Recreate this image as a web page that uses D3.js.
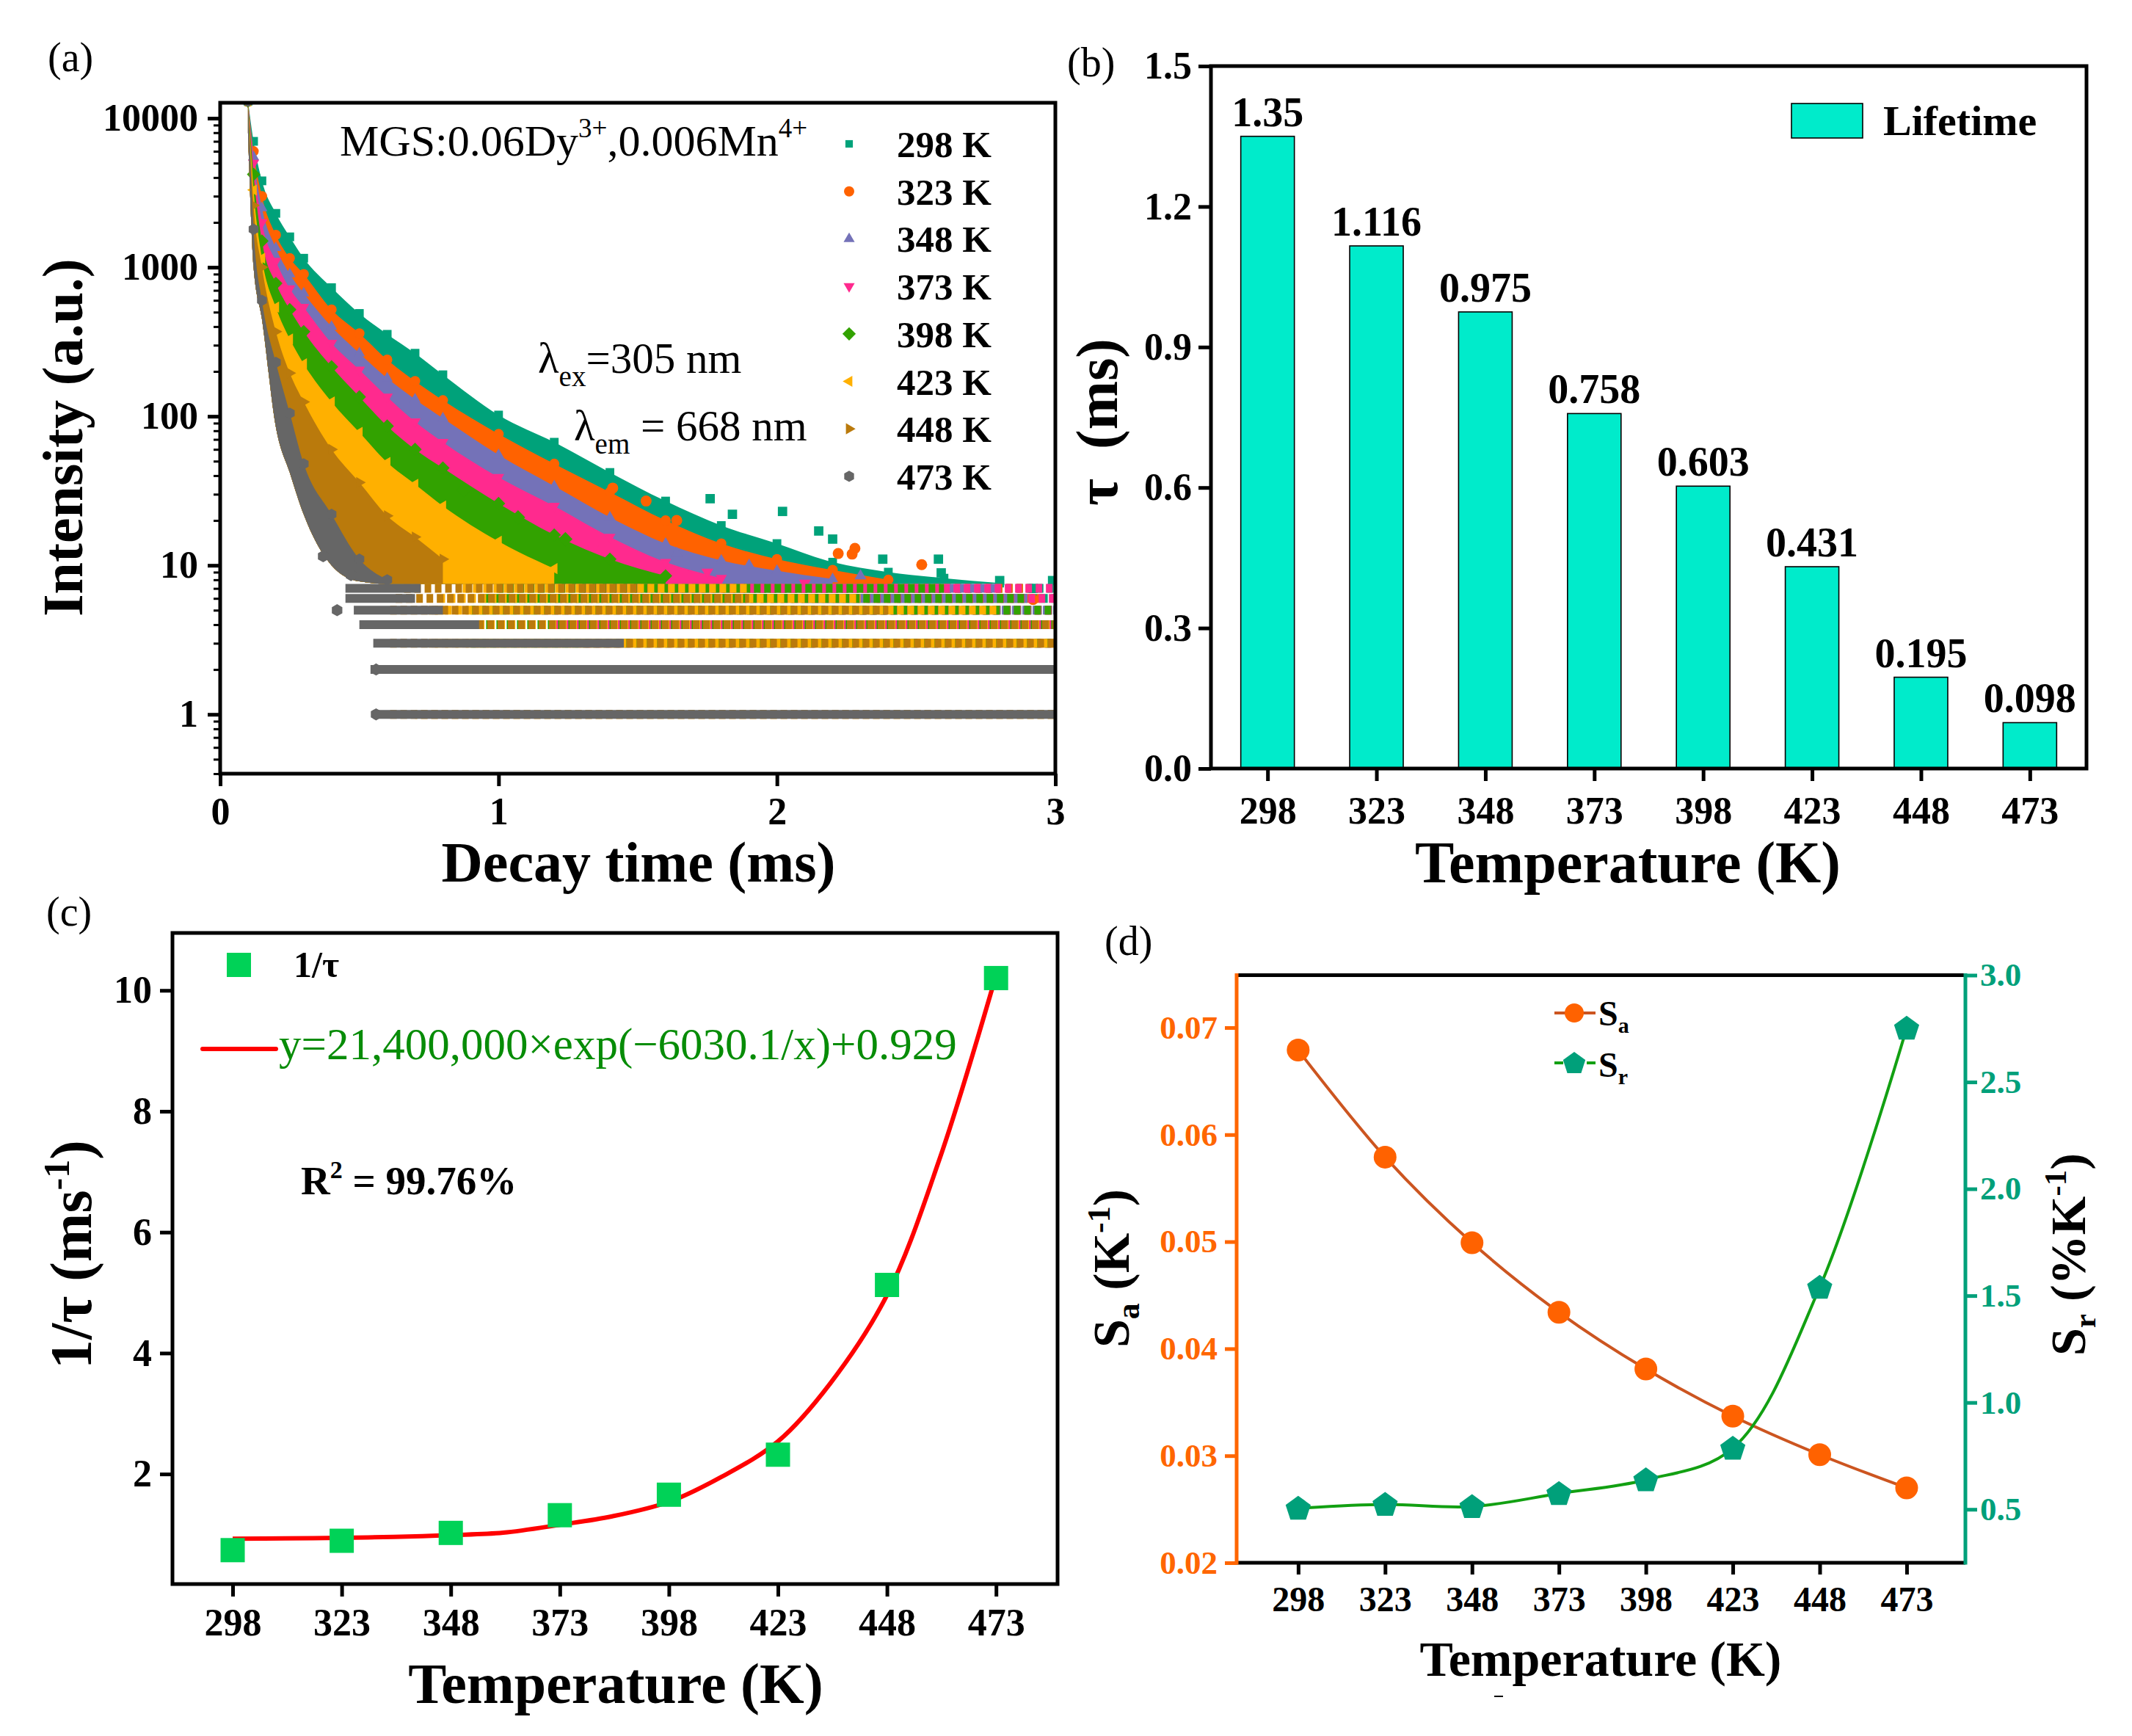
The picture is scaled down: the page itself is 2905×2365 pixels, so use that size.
<!DOCTYPE html>
<html>
<head>
<meta charset="utf-8">
<script src="https://cdn.jsdelivr.net/npm/d3@7"></script>
<style>
  body { margin: 0; background: #fff; }
  text { font-family: "Liberation Serif", "Times New Roman", serif; }
</style>
</head>
<body>
<svg id="fig" width="2905" height="2365"></svg>
<script>
// ---------- data ----------
const temps = [298, 323, 348, 373, 398, 423, 448, 473];

// (a) decay curves: upper edge of each point cloud read at these times (ms)
const decayT = [0.1, 0.12, 0.15, 0.2, 0.25, 0.3, 0.4, 0.5, 0.6, 0.7, 0.8, 1.0, 1.2, 1.4, 1.6, 1.8, 2.0, 2.2, 2.4, 2.6, 2.8, 3.0];
const hi298 = [13000, 7000, 3800, 2300, 1600, 1150, 730, 490, 355, 265, 190, 102, 67, 42, 27, 18.5, 14, 10.5, 9, 8.2, 7.6, 7.2];
const hi323 = [13000, 6000, 3000, 1650, 1150, 900, 520, 360, 240, 172, 128, 76, 48, 31, 20, 14, 11, 9.3, 8, 7.2, 6.6, 6.2];
const hi348 = [13000, 5500, 2500, 1350, 900, 670, 400, 265, 180, 130, 97, 55, 34, 21, 14, 10.8, 9.2, 8.1, 7.1, 6.5, 6, 5.7];
const hi373 = [13000, 5000, 2000, 1100, 720, 540, 310, 205, 135, 92, 67, 39, 25, 15.5, 10.5, 8.2, 7, 6.3, 5.8, 5.6, 5.4, 5.2];
const hi398 = [13000, 4200, 1500, 780, 520, 370, 215, 135, 86, 60, 45, 26, 16, 11, 8.5, 7, 6.2, 5.8, 5.6, 5.4, 5.2, 5];
const hi423 = [13000, 3300, 1150, 540, 330, 225, 125, 78, 49, 35, 25, 14.5, 9.5, 7.5, 6.5, 6, 5.7, 5.5, 5.3, 5.2, 5.1, 5];
const hi448 = [13000, 2600, 1000, 370, 195, 125, 60, 36, 21.5, 15.5, 11, 7.5, 6.3, 5.8, 5.5, 5.2, 5.1, 5, 4.9, 4.9, 4.8, 4.8];
const hi473 = [13000, 1800, 600, 230, 105, 48, 22, 11, 8, null, null, null, null, null, null, null, null, null, null, null, null, null];
// lower edge of the whole cloud (below it only the discrete count rows remain)
const cloudFloor = [8000, 1000, 450, 85, 42, 22, 10, 7.8, 7.5, 7.5, 7.5, 7.5, 7.5, 7.5, 7.5, 7.5, 7.5, 7.5, 7.5, 7.5, 7.5, 7.5];

// discrete count rows in the tails: [counts, from ms, to ms]
const rows298 = [[5, 2.3, 3], [6, 2.1, 3], [7, 1.9, 3]];
const rows323 = [[4, 2.0, 3], [5, 1.9, 3], [6, 1.8, 2.95], [7, 1.8, 2.9]];
const rows348 = [[3, 1.8, 3], [4, 1.6, 3], [5, 1.5, 3], [6, 1.5, 2.9], [7, 1.6, 2.8]];
const rows373 = [[3, 1.3, 3], [4, 1.2, 3], [5, 1.15, 3], [6, 1.2, 3], [7, 1.3, 3]];
const rows398 = [[2, 0.95, 3], [3, 0.9, 3], [4, 0.85, 3], [5, 0.9, 3], [6, 0.95, 2.9], [7, 1.0, 2.6]];
const rows423 = [[1, 0.7, 3], [2, 0.7, 3], [3, 0.75, 3], [4, 0.72, 3], [5, 0.75, 2.8], [6, 0.8, 2.3], [7, 0.85, 1.9]];
const rows448 = [[1, 0.6, 3], [2, 0.6, 3], [3, 0.6, 3], [4, 0.58, 3], [5, 0.6, 2.4], [6, 0.62, 1.9], [7, 0.65, 1.5]];
const rows473 = [[1, 0.55, 3], [2, 0.54, 3], [3, 0.55, 1.45], [4, 0.5, 0.93], [5, 0.48, 0.8], [6, 0.45, 0.7], [7, 0.45, 0.72]];

// isolated points above / below the clouds
const out298 = [[1.76, 28], [1.84, 22], [2.02, 23], [2.15, 17], [2.2, 15], [2.38, 11], [2.58, 11], [2.59, 8.9], [2.8, 7.9], [2.92, 7], [2.99, 7.9]];
const out323 = [[1.41, 33], [1.53, 27], [1.64, 20], [2.22, 12], [2.27, 11.9], [2.28, 13], [2.39, 7.3], [2.52, 10.1], [2.92, 5.9]];
const out348 = [[1.64, 12], [1.9, 10], [2.3, 8.5]];
const out373 = [[1.34, 13], [1.75, 9], [2.1, 7.6]];
const out398 = [[0.875, 32], [1.07, 21], [1.24, 15]];
const out473 = [[0.42, 5], [0.37, 11.5], [0.47, 8.6], [0.56, 2], [0.56, 1]];

const decayColors = ['#00A27A', '#FF6200', '#7472B8', '#FF2A8E', '#32A200', '#FFB000', '#BA7A0C', '#666666'];
const decayShapes = ['square', 'circle', 'up', 'down', 'diamond', 'left', 'right', 'hex'];
const decayHi = [hi298, hi323, hi348, hi373, hi398, hi423, hi448, hi473];
const decayRows = [rows298, rows323, rows348, rows373, rows398, rows423, rows448, rows473];
const decayOut = [out298, out323, out348, out373, out398, [], [], out473];
const decayYTicks = [1, 10, 100, 1000, 10000];
const decayXTicks = [0, 1, 2, 3];

// (b) lifetimes
const lifetime = [1.35, 1.116, 0.975, 0.758, 0.603, 0.431, 0.195, 0.098];
const lifetimeLabels = ['1.35', '1.116', '0.975', '0.758', '0.603', '0.431', '0.195', '0.098'];
const lifeYTicks = [0, 0.3, 0.6, 0.9, 1.2, 1.5];

// (c) 1/tau and fitted curve
const invTau = [0.741, 0.896, 1.026, 1.319, 1.658, 2.32, 5.128, 10.204];
const fitT = [298, 310, 323, 335, 348, 360, 373, 385, 398, 410, 423, 435, 448, 460, 473];
const fitY = [0.93, 0.935, 0.945, 0.96, 0.99, 1.03, 1.16, 1.30, 1.54, 1.95, 2.54, 3.5, 4.96, 7.2, 10.25];
const invYTicks = [2, 4, 6, 8, 10];

// (d) sensitivities
const sa = [0.0679, 0.0579, 0.0499, 0.0434, 0.0381, 0.0337, 0.0301, 0.0270];
const sr = [0.505, 0.523, 0.513, 0.574, 0.638, 0.786, 1.539, 2.752];
const saTicks = [0.02, 0.03, 0.04, 0.05, 0.06, 0.07];
const srTicks = [0.5, 1.0, 1.5, 2.0, 2.5, 3.0];

// ---------- helpers ----------
const svg = d3.select('#fig');
svg.append('rect').attr('width', 2905).attr('height', 2365).attr('fill', '#fff');

function poly(n, r, rot) {
  const p = d3.path();
  for (let k = 0; k < n; k++) {
    const a = rot + k * 2 * Math.PI / n;
    if (k) p.lineTo(r * Math.cos(a), r * Math.sin(a));
    else p.moveTo(r * Math.cos(a), r * Math.sin(a));
  }
  p.closePath();
  return p.toString();
}
const shapePath = {
  square: r => poly(4, r * 1.2, Math.PI / 4),
  circle: r => d3.symbol(d3.symbolCircle, Math.PI * r * r)(),
  up: r => poly(3, r * 1.25, -Math.PI / 2),
  down: r => poly(3, r * 1.25, Math.PI / 2),
  diamond: r => poly(4, r * 1.3, 0),
  left: r => poly(3, r * 1.25, Math.PI),
  right: r => poly(3, r * 1.25, 0),
  hex: r => poly(6, r * 1.1, Math.PI / 2),
  pentagon: r => poly(5, r, -Math.PI / 2)
};

function styleAxis(g, size, color) {
  g.attr('font-family', null).attr('font-size', size).attr('font-weight', 'bold');
  g.select('.domain').remove();
  g.selectAll('.tick line').attr('stroke', color).attr('stroke-width', 5);
  g.selectAll('.tick text').attr('fill', color);
}

function label(x, y, txt, size, opts = {}) {
  return svg.append('text')
    .attr('x', x).attr('y', y)
    .attr('font-size', size)
    .attr('font-weight', opts.bold ? 'bold' : 'normal')
    .attr('text-anchor', opts.anchor || 'start')
    .attr('fill', opts.fill || '#000')
    .text(txt);
}

function rotTitle(x, y, size) {
  return svg.append('text')
    .attr('transform', `translate(${x},${y}) rotate(-90)`)
    .attr('text-anchor', 'middle')
    .attr('font-size', size)
    .attr('font-weight', 'bold');
}

// ---------- (a) decay curves ----------
const xA = d3.scaleLinear().domain([0, 3]).range([300, 1438]);
const yA = d3.scaleLog().domain([0.4, 12700]).range([1054, 140]);

svg.append('clipPath').attr('id', 'clipA')
  .append('rect').attr('x', 300).attr('y', 140).attr('width', 1138).attr('height', 914);
const plotA = svg.append('g').attr('clip-path', 'url(#clipA)');

decayHi.forEach((hi, s) => {
  const col = decayColors[s];
  const g = plotA.append('g');
  const inCloud = i => hi[i] != null && hi[i] > cloudFloor[i];
  const area = d3.area()
    .defined(inCloud)
    .x(i => xA(decayT[i]))
    .y0(i => yA(cloudFloor[i]))
    .y1(i => yA(hi[i]))
    .curve(d3.curveMonotoneX);
  g.append('path').datum(d3.range(decayT.length)).attr('d', area).attr('fill', col);

  g.selectAll('path.edge')
    .data(d3.range(decayT.length).filter(inCloud))
    .join('path').attr('class', 'edge')
    .attr('transform', i => `translate(${xA(decayT[i])},${yA(hi[i])})`)
    .attr('d', shapePath[decayShapes[s]](7))
    .attr('fill', col);

  g.selectAll('path.out')
    .data(decayOut[s])
    .join('path').attr('class', 'out')
    .attr('transform', d => `translate(${xA(d[0])},${yA(d[1])})`)
    .attr('d', shapePath[decayShapes[s]](7.5))
    .attr('fill', col);

  g.selectAll('line.row')
    .data(decayRows[s])
    .join('line').attr('class', 'row')
    .attr('x1', d => xA(d[1])).attr('x2', d => xA(d[2]))
    .attr('y1', d => yA(d[0])).attr('y2', d => yA(d[0]))
    .attr('stroke', col).attr('stroke-width', 12)
    .attr('stroke-dasharray', s === 7 ? null : '9 5')
    .attr('stroke-dashoffset', s * 4);
});

// axes (a)
const minorA = [];
[0.1, 1, 10, 100, 1000].forEach(dec => {
  for (let m = 2; m <= 9; m++) {
    const v = dec * m;
    if (v >= 0.4 && v <= 12700) minorA.push(v);
  }
});
svg.append('g').attr('transform', 'translate(300,0)')
  .call(d3.axisLeft(yA).tickValues(minorA).tickFormat('').tickSize(9).tickSizeOuter(0))
  .call(g => { g.select('.domain').remove(); g.selectAll('.tick line').attr('stroke', '#000').attr('stroke-width', 3); });
svg.append('g').attr('transform', 'translate(300,0)')
  .call(d3.axisLeft(yA).tickValues(decayYTicks).tickFormat(d3.format('d')).tickSize(17).tickPadding(13).tickSizeOuter(0))
  .call(styleAxis, 52, '#000');
svg.append('g').attr('transform', 'translate(0,1054)')
  .call(d3.axisBottom(xA).tickValues(decayXTicks).tickFormat(d3.format('d')).tickSize(17).tickPadding(15).tickSizeOuter(0))
  .call(styleAxis, 52, '#000');
svg.append('rect').attr('x', 300).attr('y', 140).attr('width', 1138).attr('height', 914)
  .attr('fill', 'none').attr('stroke', '#000').attr('stroke-width', 5);

// legend (a)
temps.forEach((t, s) => {
  const y = 196 + s * 64.7;
  svg.append('path').attr('transform', `translate(1157,${y})`)
    .attr('d', shapePath[decayShapes[s]](s === 0 ? 6 : 7)).attr('fill', decayColors[s]);
  label(1222, y + 18, t + ' K', 51, { bold: true });
});

// annotations (a)
const mgs = label(463, 212, '', 60);
mgs.append('tspan').text('MGS:0.06Dy');
mgs.append('tspan').attr('dy', -25).attr('font-size', 37).text('3+');
mgs.append('tspan').attr('dy', 25).text(',0.006Mn');
mgs.append('tspan').attr('dy', -25).attr('font-size', 37).text('4+');

const lex = label(733, 508, '', 59);
lex.append('tspan').text('λ');
lex.append('tspan').attr('dy', 18).attr('font-size', 39).text('ex');
lex.append('tspan').attr('dy', -18).text('=305 nm');

const lem = label(782, 600, '', 59);
lem.append('tspan').text('λ');
lem.append('tspan').attr('dy', 18).attr('font-size', 39).text('em');
lem.append('tspan').attr('dy', -18).text(' = 668 nm');

label(65, 97, '(a)', 56);
label(870, 1201, 'Decay time (ms)', 78, { bold: true, anchor: 'middle' });
rotTitle(112, 596, 78).text('Intensity (a.u.)');

// ---------- (b) lifetime bars ----------
const xB = d3.scaleLinear().domain([285, 486]).range([1650, 2843]);
const yB = d3.scaleLinear().domain([0, 1.5]).range([1047, 90]);
const barW = 73;
const barFill = '#00EBCB';

svg.append('g').selectAll('rect')
  .data(lifetime)
  .join('rect')
  .attr('x', (d, i) => xB(temps[i]) - barW / 2)
  .attr('width', barW)
  .attr('y', d => yB(d))
  .attr('height', d => yB(0) - yB(d))
  .attr('fill', barFill).attr('stroke', '#000').attr('stroke-width', 1.6);

svg.append('g').selectAll('text')
  .data(lifetimeLabels)
  .join('text')
  .attr('x', (d, i) => xB(temps[i]))
  .attr('y', (d, i) => yB(lifetime[i]) - 14)
  .attr('text-anchor', 'middle')
  .attr('font-size', 56).attr('font-weight', 'bold')
  .text(d => d);

svg.append('g').attr('transform', 'translate(1650,0)')
  .call(d3.axisLeft(yB).tickValues(lifeYTicks).tickFormat(d3.format('.1f')).tickSize(17).tickPadding(9).tickSizeOuter(0))
  .call(styleAxis, 52, '#000');
svg.append('g').attr('transform', 'translate(0,1047)')
  .call(d3.axisBottom(xB).tickValues(temps).tickFormat(d3.format('d')).tickSize(17).tickPadding(21).tickSizeOuter(0))
  .call(styleAxis, 52, '#000');
svg.append('rect').attr('x', 1650).attr('y', 90).attr('width', 1193).attr('height', 957)
  .attr('fill', 'none').attr('stroke', '#000').attr('stroke-width', 5);

svg.append('rect').attr('x', 2441).attr('y', 141).attr('width', 97).attr('height', 47)
  .attr('fill', barFill).attr('stroke', '#000').attr('stroke-width', 1.6);
label(2566, 184, 'Lifetime', 58, { bold: true });

label(1454, 104, '(b)', 56);
label(2218, 1202, 'Temperature (K)', 80, { bold: true, anchor: 'middle' });
const tb = rotTitle(1522, 575, 80);
tb.append('tspan').text('τ');
tb.append('tspan').attr('dx', 40).text('(ms)');

// ---------- (c) 1/tau with fit ----------
const xC = d3.scaleLinear().domain([284.2, 487.1]).range([235, 1441]);
const yC = d3.scaleLinear().domain([0.18, 10.95]).range([2158, 1271]);

svg.append('path')
  .datum(fitT.map((t, i) => [t, fitY[i]]))
  .attr('d', d3.line().x(d => xC(d[0])).y(d => yC(d[1])).curve(d3.curveCatmullRom))
  .attr('fill', 'none').attr('stroke', '#FF0000').attr('stroke-width', 6);

svg.append('g').selectAll('rect')
  .data(invTau)
  .join('rect')
  .attr('x', (d, i) => xC(temps[i]) - 16.5)
  .attr('y', d => yC(d) - 16.5)
  .attr('width', 33).attr('height', 33)
  .attr('fill', '#00D257');

svg.append('g').attr('transform', 'translate(235,0)')
  .call(d3.axisLeft(yC).tickValues(invYTicks).tickFormat(d3.format('d')).tickSize(17).tickPadding(11).tickSizeOuter(0))
  .call(styleAxis, 52, '#000');
svg.append('g').attr('transform', 'translate(0,2158)')
  .call(d3.axisBottom(xC).tickValues(temps).tickFormat(d3.format('d')).tickSize(17).tickPadding(16).tickSizeOuter(0))
  .call(styleAxis, 52, '#000');
svg.append('rect').attr('x', 235).attr('y', 1271).attr('width', 1206).attr('height', 887)
  .attr('fill', 'none').attr('stroke', '#000').attr('stroke-width', 5);

// legend (c)
svg.append('rect').attr('x', 309).attr('y', 1298).attr('width', 33).attr('height', 33).attr('fill', '#00D257');
label(400, 1331, '1/τ', 50, { bold: true });
svg.append('line').attr('x1', 276).attr('x2', 376).attr('y1', 1429).attr('y2', 1429)
  .attr('stroke', '#FF0000').attr('stroke-width', 6).attr('stroke-linecap', 'round');
label(380, 1443, 'y=21,400,000×exp(−6030.1/x)+0.929', 61, { fill: '#078C07' });
const r2 = label(410, 1627, '', 55, { bold: true });
r2.append('tspan').text('R');
r2.append('tspan').attr('dy', -22).attr('font-size', 34).text('2');
r2.append('tspan').attr('dy', 22).text(' = 99.76%');

label(63, 1261, '(c)', 56);
label(839, 2320, 'Temperature (K)', 78, { bold: true, anchor: 'middle' });
const tc = rotTitle(124, 1709, 80);
tc.append('tspan').text('1/τ (ms');
tc.append('tspan').attr('dy', -30).attr('font-size', 50).text('-1');
tc.append('tspan').attr('dy', 30).text(')');

// ---------- (d) sensitivities ----------
const orange = '#FF6600', green = '#00A07A';
const xD = d3.scaleLinear().domain([280.3, 489.9]).range([1685, 2678]);
const ySa = d3.scaleLinear().domain([0.02, 0.0749]).range([2129, 1328.5]);
const ySr = d3.scaleLinear().domain([0.25, 3.0]).range([2129, 1328.5]);

svg.append('path')
  .datum(sa.map((v, i) => [temps[i], v]))
  .attr('d', d3.line().x(d => xD(d[0])).y(d => ySa(d[1])).curve(d3.curveCatmullRom))
  .attr('fill', 'none').attr('stroke', '#CC5520').attr('stroke-width', 4);
svg.append('path')
  .datum(sr.map((v, i) => [temps[i], v]))
  .attr('d', d3.line().x(d => xD(d[0])).y(d => ySr(d[1])).curve(d3.curveCatmullRom))
  .attr('fill', 'none').attr('stroke', '#12A012').attr('stroke-width', 4);

svg.append('g').selectAll('circle')
  .data(sa)
  .join('circle')
  .attr('cx', (d, i) => xD(temps[i])).attr('cy', d => ySa(d))
  .attr('r', 15.5).attr('fill', '#FF6200');
svg.append('g').selectAll('path')
  .data(sr)
  .join('path')
  .attr('transform', (d, i) => `translate(${xD(temps[i])},${ySr(d) + 1})`)
  .attr('d', shapePath.pentagon(18)).attr('fill', green);

svg.append('g').attr('transform', 'translate(1685,0)')
  .call(d3.axisLeft(ySa).tickValues(saTicks).tickFormat(d3.format('.2f')).tickSize(16).tickPadding(10).tickSizeOuter(0))
  .call(styleAxis, 45, orange);
svg.append('g').attr('transform', 'translate(2678,0)')
  .call(d3.axisRight(ySr).tickValues(srTicks).tickFormat(d3.format('.1f')).tickSize(16).tickPadding(4).tickSizeOuter(0))
  .call(styleAxis, 45, green);
svg.append('g').attr('transform', 'translate(0,2129)')
  .call(d3.axisBottom(xD).tickValues(temps).tickFormat(d3.format('d')).tickSize(16).tickPadding(16).tickSizeOuter(0))
  .call(styleAxis, 48, '#000');

svg.append('line').attr('x1', 1685).attr('x2', 2678).attr('y1', 1328.5).attr('y2', 1328.5).attr('stroke', '#000').attr('stroke-width', 5);
svg.append('line').attr('x1', 1685).attr('x2', 2678).attr('y1', 2129).attr('y2', 2129).attr('stroke', '#000').attr('stroke-width', 5);
svg.append('line').attr('x1', 1685).attr('x2', 1685).attr('y1', 1326).attr('y2', 2131.5).attr('stroke', orange).attr('stroke-width', 5);
svg.append('line').attr('x1', 2678).attr('x2', 2678).attr('y1', 1326).attr('y2', 2131.5).attr('stroke', green).attr('stroke-width', 5);

// legend (d)
svg.append('line').attr('x1', 2118).attr('x2', 2174).attr('y1', 1380).attr('y2', 1380).attr('stroke', '#CC5520').attr('stroke-width', 4);
svg.append('circle').attr('cx', 2145).attr('cy', 1380).attr('r', 13).attr('fill', '#FF6200');
svg.append('line').attr('x1', 2118).attr('x2', 2130).attr('y1', 1448).attr('y2', 1448).attr('stroke', '#12A012').attr('stroke-width', 4);
svg.append('line').attr('x1', 2162).attr('x2', 2174).attr('y1', 1448).attr('y2', 1448).attr('stroke', '#12A012').attr('stroke-width', 4);
svg.append('path').attr('transform', 'translate(2145,1449)').attr('d', shapePath.pentagon(16)).attr('fill', green);
const lsa = label(2178, 1397, '', 48, { bold: true });
lsa.append('tspan').text('S');
lsa.append('tspan').attr('dy', 10).attr('font-size', 30).text('a');
const lsr = label(2178, 1467, '', 48, { bold: true });
lsr.append('tspan').text('S');
lsr.append('tspan').attr('dy', 10).attr('font-size', 30).text('r');

label(1505, 1301, '(d)', 56);
label(2181, 2283, 'Temperature (K)', 68, { bold: true, anchor: 'middle' });
const tsa = rotTitle(1538, 1728, 70);
tsa.append('tspan').text('S');
tsa.append('tspan').attr('dy', 14).attr('font-size', 44).text('a');
tsa.append('tspan').attr('dy', -14).text(' (K');
tsa.append('tspan').attr('dy', -26).attr('font-size', 44).text('-1');
tsa.append('tspan').attr('dy', 26).text(')');
const tsr = rotTitle(2841, 1709, 68);
tsr.append('tspan').text('S');
tsr.append('tspan').attr('dy', 14).attr('font-size', 43).text('r');
tsr.append('tspan').attr('dy', -14).text(' (%K');
tsr.append('tspan').attr('dy', -26).attr('font-size', 43).text('-1');
tsr.append('tspan').attr('dy', 26).text(')');
// small stray dash under panel (d)
svg.append('line').attr('x1', 2036).attr('x2', 2048).attr('y1', 2311).attr('y2', 2311).attr('stroke', '#000').attr('stroke-width', 2);
</script>
</body>
</html>
